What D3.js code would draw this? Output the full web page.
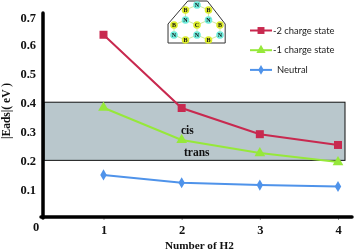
<!DOCTYPE html>
<html>
<head>
<meta charset="utf-8">
<script src="https://cdn.jsdelivr.net/npm/d3@7"></script>
<style>
  html, body { margin: 0; padding: 0; background: #fff; }
  svg { display: block; filter: blur(0.35px); }
</style>
</head>
<body>
<div id="chart"></div>
<script>
// values
var categories = [1, 2, 3, 4];
var chargeMinus2 = [0.632, 0.38, 0.29, 0.253];
var chargeMinus1 = [0.381, 0.27, 0.225, 0.194];
var neutral = [0.15, 0.123, 0.115, 0.11];
var yTicks = [0.1, 0.2, 0.3, 0.4, 0.5, 0.6, 0.7];
var bandRange = [0.2, 0.4];

// inset lattice: atom label, column, row
var atomLabels = ["N", "B", "B", "N", "N", "C", "B", "B", "N", "N", "N", "B", "B"];
var atomCols = [2, 1, 3, 1, 3, 2, 0, 4, 0, 2, 4, 1, 3];
var atomRows = [0, 1, 1, 3, 3, 4, 4, 4, 6, 6, 6, 7, 7];

var width = 354;
var height = 251;

var svg = d3.select("#chart").append("svg")
  .attr("width", width)
  .attr("height", height);

var x = d3.scalePoint().domain(categories).range([103.5, 338]);
var y = d3.scaleLinear().domain([0, 0.7]).range([218.5, 15]);

// grey band
svg.append("rect")
  .attr("x", 44)
  .attr("y", y(bandRange[1]))
  .attr("width", 345 - 44)
  .attr("height", y(bandRange[0]) - y(bandRange[1]))
  .attr("fill", "#b9c7cc")
  .attr("stroke", "#111")
  .attr("stroke-width", 1);

// axes
var serif = "'Liberation Serif', serif";

var yAxis = svg.append("g")
  .attr("transform", "translate(43,0)")
  .call(d3.axisLeft(y).tickValues(yTicks).tickSize(0).tickPadding(7).tickFormat(d3.format(".1f")));
yAxis.select(".domain").remove();
yAxis.selectAll("text")
  .attr("dy", function(d){ return d == 0.7 ? "0.55em" : "0.35em"; })
  .attr("font-family", serif)
  .attr("font-weight", "bold")
  .attr("font-size", 12.5)
  .attr("fill", "#111");

var xAxis = svg.append("g")
  .attr("transform", "translate(0,217)")
  .call(d3.axisBottom(x).tickSize(3).tickPadding(5));
xAxis.select(".domain").remove();
xAxis.selectAll("line").attr("stroke", "#555").attr("stroke-width", 0.6);
xAxis.selectAll("text")
  .attr("font-family", serif)
  .attr("font-weight", "bold")
  .attr("font-size", 12.5)
  .attr("fill", "#111");

svg.append("line")
  .attr("x1", 43).attr("x2", 43)
  .attr("y1", 13).attr("y2", 218)
  .attr("stroke", "#000").attr("stroke-width", 3.5).attr("stroke-linecap", "round");
svg.append("line")
  .attr("x1", 41).attr("x2", 352)
  .attr("y1", 217).attr("y2", 217)
  .attr("stroke", "#000").attr("stroke-width", 3.5).attr("stroke-linecap", "round");

function label(str, px, py, size) {
  return svg.append("text")
    .attr("x", px).attr("y", py)
    .attr("font-family", serif)
    .attr("font-weight", "bold")
    .attr("font-size", size)
    .attr("fill", "#111")
    .text(str);
}

label("0", 33, 231, 12.5);
label("Number of H2", 165, 249, 11.2);
label("cis", 181, 134, 11.5);
label("trans", 184, 155.5, 11.5);
label("|Eads|( eV )", 0, 0, 11.5)
  .attr("text-anchor", "middle")
  .attr("transform", "translate(10,111) rotate(-90)");

// series
var line = d3.line()
  .x(function(d){ return x(d.cat); })
  .y(function(d){ return y(d.val); });

var series = [
  { values: chargeMinus2, color: "#c8294f", symbol: d3.symbolSquare, size: 64, name: "-2 charge state", textX: 273 },
  { values: chargeMinus1, color: "#96e83a", symbol: d3.symbolTriangle, size: 50, name: "-1 charge state", textX: 273 },
  { values: neutral, color: "#4f93ea", symbol: d3.symbolDiamond, size: 36, name: "Neutral", textX: 277 }
];

series.forEach(function(s, i){
  var pts = categories.map(function(c, j){ return { cat: c, val: s.values[j] }; });
  svg.append("path")
    .attr("d", line(pts))
    .attr("fill", "none")
    .attr("stroke", s.color)
    .attr("stroke-width", 2);
  svg.selectAll(".mark" + i)
    .data(pts)
    .enter().append("path")
    .attr("d", d3.symbol().type(s.symbol).size(s.size))
    .attr("transform", function(d){ return "translate(" + x(d.cat) + "," + y(d.val) + ")"; })
    .attr("fill", s.color);

  // legend
  var ly = 30.5 + i * 19.7;
  svg.append("line")
    .attr("x1", 250).attr("x2", 272)
    .attr("y1", ly).attr("y2", ly)
    .attr("stroke", s.color).attr("stroke-width", 2);
  svg.append("path")
    .attr("d", d3.symbol().type(s.symbol).size(s.size * 0.75))
    .attr("transform", "translate(261," + ly + ")")
    .attr("fill", s.color);
  svg.append("text")
    .attr("x", s.textX).attr("y", ly + 3)
    .attr("font-family", "Lato, 'Noto Sans', sans-serif")
    .attr("font-size", 9.4)
    .attr("fill", "#222")
    .text(s.name);
});

// inset molecule
var inset = svg.append("g");
var ax = d3.scaleLinear().domain([0, 4]).range([174, 220]);
var ay = d3.scaleLinear().domain([0, 7]).range([5, 40]);

var atoms = atomLabels.map(function(t, i){ return { t: t, c: atomCols[i], r: atomRows[i] }; });

var outline = d3.line().x(function(d){ return ax(d[0]); }).y(function(d){ return ay(d[1]); });
inset.append("path")
  .attr("d", outline([[-0.52, 3.8], [1.2, -0.8], [2.9, -0.8], [4.45, 3.8], [4.45, 7.6], [-0.52, 7.6]]) + "Z")
  .attr("fill", "#fff")
  .attr("stroke", "#333")
  .attr("stroke-width", 1);

atoms.forEach(function(a, i){
  atoms.slice(i + 1).forEach(function(b){
    if (Math.abs(a.c - b.c) <= 1 && Math.abs(a.r - b.r) <= 2 || (a.c == b.c && Math.abs(a.r - b.r) == 2)) {
      inset.append("line")
        .attr("x1", ax(a.c)).attr("y1", ay(a.r))
        .attr("x2", ax(b.c)).attr("y2", ay(b.r))
        .attr("stroke", "#cfe9a0").attr("stroke-width", 1);
    }
  });
});

inset.selectAll("circle")
  .data(atoms)
  .enter().append("circle")
  .attr("cx", function(d){ return ax(d.c); })
  .attr("cy", function(d){ return ay(d.r); })
  .attr("r", 3.8)
  .attr("fill", function(d){ return d.t == "N" ? "#6fecdc" : "#dcec2c"; });

inset.selectAll(".atom")
  .data(atoms)
  .enter().append("text")
  .attr("x", function(d){ return ax(d.c); })
  .attr("y", function(d){ return ay(d.r) + 2.2; })
  .attr("text-anchor", "middle")
  .attr("font-family", serif)
  .attr("font-weight", "bold")
  .attr("font-size", 6)
  .attr("fill", "#111")
  .text(function(d){ return d.t; });
</script>
</body>
</html>
